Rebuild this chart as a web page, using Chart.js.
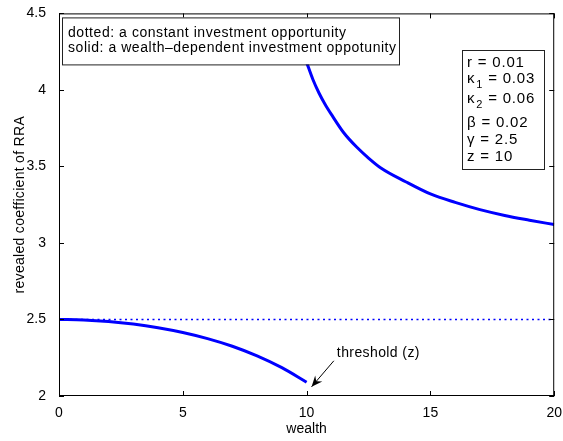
<!DOCTYPE html>
<html>
<head>
<meta charset="utf-8">
<script src="https://cdn.jsdelivr.net/npm/chart.js@4.4.1/dist/chart.umd.min.js"></script>
<style>
  html, body { margin: 0; padding: 0; background: #fff; }
  #wrap { width: 563px; height: 441px; position: relative; }
</style>
</head>
<body>
<div id="wrap"><canvas id="rraChart" width="563" height="441"></canvas></div>
<script>
// ---- Data ----
const lowerWealth = [0, 1, 2, 3, 4, 5, 6, 7, 8, 9, 10];
const lowerRRA = [2.5, 2.497, 2.487, 2.47, 2.446, 2.415, 2.375, 2.325, 2.262, 2.185, 2.09];

const upperWealth = [10, 10.25, 10.5, 10.75, 11, 11.5, 12, 12.5, 13, 14, 15, 16, 17, 18, 19, 20];
const upperRRA = [4.18, 4.07, 3.98, 3.905, 3.84, 3.72, 3.63, 3.555, 3.49, 3.4, 3.32, 3.265, 3.218, 3.18, 3.149, 3.12];

const constWealth = [0, 20];
const constRRA = [2.5, 2.5];

const xTicks = [0, 5, 10, 15, 20];
const yTicks = [2, 2.5, 3, 3.5, 4, 4.5];

const legendLines = [
  'dotted: a constant investment opportunity',
  'solid: a wealth\u2013dependent investment oppotunity'
];
// [symbol, subscript, value]
const paramLines = [
  ['r', '', '0.01'],
  ['\u03BA', '1', '0.03'],
  ['\u03BA', '2', '0.06'],
  ['\u03B2', '', '0.02'],
  ['\u03B3', '', '2.5'],
  ['z', '', '10']
];

const threshold = { label: 'threshold (z)', tip: [10.2, 2.06], tail: [11.1, 2.23] };

const FONT = '"Liberation Sans", Arial, Helvetica, sans-serif';

function toPts(xs, ys) {
  return xs.map((x, i) => ({ x: x, y: ys[i] }));
}

// ---- MATLAB-ish frame, ticks and annotations ----
const matlabDecor = {
  id: 'matlabDecor',
  afterDatasetsDraw(chart) {
    const ctx = chart.ctx;
    const a = chart.chartArea;
    const xs = chart.scales.x;
    const ys = chart.scales.y;

    ctx.save();
    // frame
    ctx.strokeStyle = '#000';
    ctx.lineWidth = 1;
    ctx.strokeRect(a.left + 0.5, a.top + 0.5, a.right - a.left - 1, a.bottom - a.top - 1);

    // inward ticks on all four sides
    const tl = 5;
    ctx.beginPath();
    xTicks.forEach(v => {
      const px = Math.round(xs.getPixelForValue(v)) + 0.5;
      ctx.moveTo(px, a.bottom); ctx.lineTo(px, a.bottom - tl);
      ctx.moveTo(px, a.top); ctx.lineTo(px, a.top + tl);
    });
    yTicks.forEach(v => {
      const py = Math.round(ys.getPixelForValue(v)) + 0.5;
      ctx.moveTo(a.left, py); ctx.lineTo(a.left + tl, py);
      ctx.moveTo(a.right, py); ctx.lineTo(a.right - tl, py);
    });
    ctx.stroke();

    // legend box (top left)
    const lx = a.left + 3, ly = a.top + 4, lw = 337, lh = 47;
    ctx.fillStyle = '#fff';
    ctx.fillRect(lx, ly, lw, lh);
    ctx.strokeStyle = '#222';
    ctx.strokeRect(lx + 0.5, ly + 0.5, lw, lh);
    ctx.fillStyle = '#000';
    ctx.font = '14px ' + FONT;
    ctx.letterSpacing = '0.55px';
    ctx.textBaseline = 'middle';
    ctx.textAlign = 'left';
    legendLines.forEach((t, i) => ctx.fillText(t, lx + 6, ly + 16 + i * 15));

    // parameter box (top right)
    const px0 = 462, py0 = 50, pw = 82, ph = 119;
    ctx.fillStyle = '#fff';
    ctx.fillRect(px0, py0, pw, ph);
    ctx.strokeStyle = '#222';
    ctx.strokeRect(px0 + 0.5, py0 + 0.5, pw, ph);
    ctx.fillStyle = '#000';
    ctx.letterSpacing = '0.8px';
    const rowY = [63, 79, 99, 123, 140, 157];
    paramLines.forEach((p, i) => {
      let x = px0 + 5;
      const y = rowY[i];
      ctx.font = '15px ' + FONT;
      ctx.fillText(p[0], x, y);
      x += ctx.measureText(p[0]).width;
      if (p[1]) {
        ctx.font = '11px ' + FONT;
        ctx.fillText(p[1], x + 1, y + 6);
        x += ctx.measureText(p[1]).width + 1;
        ctx.font = '15px ' + FONT;
      }
      ctx.fillText(' = ' + p[2], x, y);
    });

    // threshold arrow
    const tx = xs.getPixelForValue(threshold.tail[0]);
    const ty = ys.getPixelForValue(threshold.tail[1]);
    const hx = xs.getPixelForValue(threshold.tip[0]);
    const hy = ys.getPixelForValue(threshold.tip[1]);
    ctx.strokeStyle = '#000';
    ctx.lineWidth = 1;
    ctx.beginPath();
    ctx.moveTo(tx, ty);
    ctx.lineTo(hx, hy);
    ctx.stroke();
    const ang = Math.atan2(hy - ty, hx - tx);
    const hl = 12, hw = 0.4;
    ctx.beginPath();
    ctx.moveTo(hx, hy);
    ctx.lineTo(hx - hl * Math.cos(ang - hw), hy - hl * Math.sin(ang - hw));
    ctx.lineTo(hx - hl * 0.6 * Math.cos(ang), hy - hl * 0.6 * Math.sin(ang));
    ctx.lineTo(hx - hl * Math.cos(ang + hw), hy - hl * Math.sin(ang + hw));
    ctx.closePath();
    ctx.fillStyle = '#000';
    ctx.fill();
    ctx.font = '14px ' + FONT;
    ctx.letterSpacing = '0.4px';
    ctx.textBaseline = 'middle';
    ctx.fillText(threshold.label, tx + 3, ty - 8);

    // y axis title (drawn here so its position can follow the reference)
    ctx.save();
    ctx.translate(20, (a.top + a.bottom) / 2);
    ctx.rotate(-Math.PI / 2);
    ctx.textAlign = 'center';
    ctx.font = '14px ' + FONT;
    ctx.letterSpacing = '0.3px';
    ctx.fillText('revealed coefficient of RRA', 0, 0);
    ctx.restore();

    ctx.restore();
  }
};

const ctx = document.getElementById('rraChart').getContext('2d');
new Chart(ctx, {
  type: 'line',
  data: {
    datasets: [
      {
        label: 'constant',
        data: toPts(constWealth, constRRA),
        borderColor: '#0000ff',
        borderWidth: 1.5,
        borderDash: [2, 3.5],
        pointRadius: 0,
        fill: false
      },
      {
        label: 'wealth-dependent (below z)',
        data: toPts(lowerWealth, lowerRRA),
        borderColor: '#0000ff',
        borderWidth: 3,
        pointRadius: 0,
        cubicInterpolationMode: 'monotone',
        fill: false
      },
      {
        label: 'wealth-dependent (above z)',
        data: toPts(upperWealth, upperRRA),
        borderColor: '#0000ff',
        borderWidth: 3,
        pointRadius: 0,
        cubicInterpolationMode: 'monotone',
        fill: false
      }
    ]
  },
  options: {
    responsive: false,
    animation: false,
    devicePixelRatio: 1,
    layout: { autoPadding: false, padding: { left: 0, right: 7, top: 9, bottom: 0 } },
    plugins: {
      legend: { display: false },
      tooltip: { enabled: false }
    },
    scales: {
      x: {
        type: 'linear',
        min: 0,
        max: 20,
        afterBuildTicks: s => { s.ticks = xTicks.map(v => ({ value: v })); },
        afterFit: s => { s.height = 45; },
        grid: { display: false },
        border: { display: false },
        ticks: {
          color: '#000',
          font: { family: FONT, size: 14 },
          padding: 1,
          maxRotation: 0,
          callback: v => String(v)
        },
        title: {
          display: true,
          text: 'wealth',
          color: '#000',
          font: { family: FONT, size: 14 },
          padding: { top: 0, bottom: 3 }
        }
      },
      y: {
        type: 'linear',
        min: 2,
        max: 4.5,
        afterBuildTicks: s => { s.ticks = yTicks.map(v => ({ value: v })); },
        afterFit: s => { s.width = 59; },
        grid: { display: false },
        border: { display: false },
        ticks: {
          color: '#000',
          font: { family: FONT, size: 14 },
          padding: 5,
          callback: v => String(v)
        }
      }
    }
  },
  plugins: [matlabDecor]
});
</script>
</body>
</html>
